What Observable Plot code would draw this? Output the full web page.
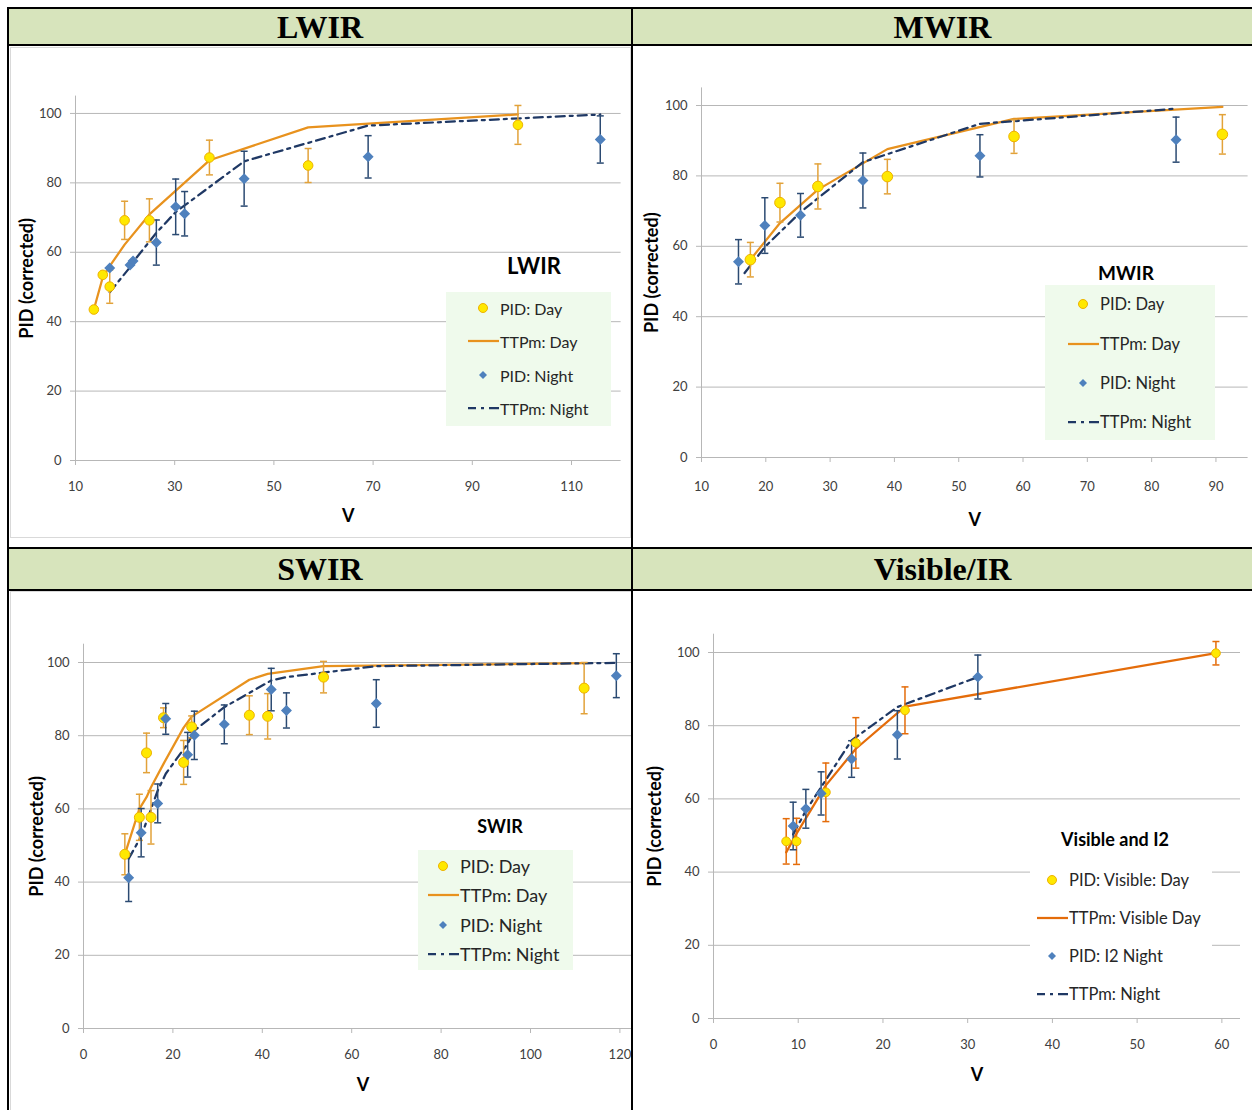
<!DOCTYPE html>
<html><head><meta charset="utf-8">
<script src="https://cdn.jsdelivr.net/npm/d3@7"></script>
<script src="https://cdn.jsdelivr.net/npm/@observablehq/plot@0.6"></script>
<style>
body{margin:0;background:#fff;}
#page{position:relative;width:1252px;height:1110px;overflow:hidden;background:#fff;font-family:Lato,"Open Sans",sans-serif;}
.bl{position:absolute;background:#000;}
.hdr{position:absolute;background:#D7E4BC;font-family:"Liberation Serif","Times New Roman",serif;font-weight:bold;font-size:32px;color:#000;text-align:center;}
.outline{position:absolute;border:1px solid #d9d9d9;box-sizing:border-box;}
.cell{position:absolute;overflow:hidden;}
.cell svg{display:block;overflow:visible;max-width:none !important;}
.cell [aria-label="y-axis label"] text,.cell [aria-label="x-axis label"] text{font-weight:700;font-size:18px;fill:#000;}
.lgtitle{position:absolute;font-weight:700;color:#000;white-space:nowrap;transform:translate(-50%,-50%);}
.lgbox{position:absolute;}
.lgrow{position:absolute;display:flex;align-items:center;height:20px;white-space:nowrap;color:#262626;}
.lgrow svg{display:block;}
</style>
</head><body>
<div id="page"></div>
<script>
// ---------- DATA ----------
const yTicks = [0, 20, 40, 60, 80, 100];

// LWIR
const lwirXTicks = [10, 30, 50, 70, 90, 110];
const lwirDayV = [13.7, 15.5, 16.9, 19.9, 24.9, 37.0, 56.9, 99.2];
const lwirDayPID = [43.5, 53.5, 50.1, 69.2, 69.2, 87.3, 85.0, 96.7];
const lwirDayErr = [0, 0, 4.8, 5.5, 6.2, 5.0, 4.9, 5.6];
const lwirNightV = [16.9, 21.0, 21.6, 26.3, 30.2, 32.0, 44.0, 69.0, 115.8];
const lwirNightPID = [55.5, 56.3, 57.5, 62.8, 73.1, 71.1, 81.2, 87.5, 92.5];
const lwirNightErr = [0, 0, 0, 6.5, 8.0, 6.4, 7.9, 6.1, 6.8];
const lwirDayModelV = [13.7, 15.5, 16.9, 19.9, 24.9, 37.0, 56.9, 99.2];
const lwirDayModelPID = [43.5, 52.8, 56.0, 62.2, 70.9, 86.5, 96.0, 99.7];
const lwirNightModelV = [16.9, 21.0, 21.6, 26.3, 30.2, 32.0, 44.0, 69.0, 115.8];
const lwirNightModelPID = [48.5, 55.7, 57.2, 65.6, 71.6, 73.5, 86.2, 96.5, 99.7];

// MWIR
const mwirXTicks = [10, 20, 30, 40, 50, 60, 70, 80, 90];
const mwirDayV = [17.6, 22.2, 28.1, 38.9, 58.6, 91.0];
const mwirDayPID = [56.2, 72.4, 77.0, 79.8, 91.2, 91.8];
const mwirDayErr = [4.9, 5.5, 6.4, 4.9, 4.8, 5.6];
const mwirNightV = [15.75, 19.85, 25.4, 35.1, 53.3, 83.8];
const mwirNightPID = [55.6, 65.9, 68.8, 78.7, 85.7, 90.3];
const mwirNightErr = [6.3, 7.9, 6.2, 7.8, 6.0, 6.4];
const mwirDayModelV = [17.6, 22.2, 28.1, 38.9, 58.6, 91.0];
const mwirDayModelPID = [56.2, 66.6, 76.1, 87.6, 96.2, 99.6];
const mwirNightModelV = [16.7, 19.85, 25.4, 35.1, 53.3, 83.8];
const mwirNightModelPID = [52.4, 59.8, 69.7, 83.9, 94.8, 99.1];

// SWIR
const swirXTicks = [0, 20, 40, 60, 80, 100, 120];
const swirDayV = [9.25, 12.5, 14.1, 15.1, 17.9, 22.4, 24.2, 37.1, 41.2, 53.7, 112.0];
const swirDayPID = [47.6, 57.7, 75.3, 57.7, 84.9, 72.7, 82.4, 85.6, 85.3, 96.0, 93.0];
const swirDayErr = [5.6, 6.3, 5.4, 7.3, 2.7, 6.0, 3.0, 5.3, 6.2, 4.3, 7.0];
const swirNightV = [10.1, 12.9, 16.6, 18.4, 23.3, 24.8, 31.5, 42.0, 45.4, 65.5, 119.2];
const swirNightPID = [41.2, 53.5, 61.5, 84.6, 74.8, 80.1, 83.1, 92.6, 86.9, 88.8, 96.4];
const swirNightErr = [6.5, 6.6, 5.3, 4.2, 6.1, 6.6, 5.3, 5.8, 4.8, 6.5, 6.0];
const swirDayModelV = [9.25, 12.5, 14.1, 15.1, 17.9, 22.4, 24.2, 37.1, 41.2, 53.7, 112.0];
const swirDayModelPID = [47.6, 60.0, 63.2, 65.9, 72.3, 82.2, 85.2, 95.3, 96.9, 99.0, 99.8];
const swirNightModelV = [10.1, 12.9, 16.6, 18.4, 23.3, 24.8, 31.5, 42.0, 45.4, 65.5, 119.2];
const swirNightModelPID = [46.4, 52.5, 65.0, 69.6, 77.8, 81.4, 87.8, 95.1, 96.0, 99.0, 99.9];

// Visible / I2
const visXTicks = [0, 10, 20, 30, 40, 50, 60];
const visDayV = [8.58, 9.8, 13.26, 16.8, 22.6, 59.3];
const visDayPID = [48.4, 48.4, 61.8, 75.3, 84.2, 99.8];
const visDayErr = [6.2, 6.3, 8.0, 6.9, 6.4, 3.2];
const visNightV = [9.4, 10.9, 12.7, 16.3, 21.7, 31.2];
const visNightPID = [52.6, 57.3, 61.5, 70.9, 77.5, 93.3];
const visNightErr = [6.5, 5.3, 5.9, 5.0, 6.6, 6.0];
const visDayModelV = [8.58, 9.8, 13.26, 16.8, 22.6, 59.3];
const visDayModelPID = [45.4, 50.5, 63.7, 73.7, 85.2, 99.8];
const visNightModelV = [9.4, 10.9, 12.7, 16.3, 21.7, 31.2];
const visNightModelPID = [50.3, 56.8, 63.2, 76.0, 85.1, 93.3];

const headerTitles = ["LWIR", "MWIR", "SWIR", "Visible/IR"];
const legendTitles = ["LWIR", "MWIR", "SWIR", "Visible and I2"];
const legendLabelsStd = ["PID: Day", "TTPm: Day", "PID: Night", "TTPm: Night"];
const legendLabelsVis = ["PID: Visible: Day", "TTPm: Visible Day", "PID: I2 Night", "TTPm: Night"];

// ---------- LAYOUT ----------
const page = document.getElementById("page");
function div(cls, style, html) {
  const d = document.createElement("div");
  if (cls) d.className = cls;
  Object.assign(d.style, style);
  if (html != null) d.textContent = html;
  page.appendChild(d);
  return d;
}
// headers
div("hdr", {left:"9px", top:"9px", width:"622px", height:"35px", lineHeight:"36px"}, headerTitles[0]);
div("hdr", {left:"633px", top:"9px", width:"619px", height:"35px", lineHeight:"36px"}, headerTitles[1]);
div("hdr", {left:"9px", top:"549px", width:"622px", height:"40px", lineHeight:"40px"}, headerTitles[2]);
div("hdr", {left:"633px", top:"549px", width:"619px", height:"40px", lineHeight:"40px"}, headerTitles[3]);
// chart outlines
div("outline", {left:"10px", top:"47px", width:"621px", height:"491px"});
div("outline", {left:"10px", top:"591px", width:"622px", height:"530px"});

const capSymbol = {draw(ctx, size) { const r = Math.sqrt(size / Math.PI); ctx.moveTo(-r, 0); ctx.lineTo(r, 0); }};
const rows = (V, P, E) => V.map((v, i) => ({v, pid: P[i], err: E ? E[i] : 0}));

const NIGHT_LINE = "#1F3864";
const NIGHT_ERR = "#2B4A72";
const NIGHT_DOT = "#4F81BD";
const DAY_FILL = "#FFE800";
const DAY_STROKE = "#EDB200";

const panels = [
  {left:9, top:46, width:622, height:501, svgW:622, ml:66, mr:10.4, mt:49.6, mb:87, xDomain:[10,120], xTicks:lwirXTicks,
   day:rows(lwirDayV, lwirDayPID, lwirDayErr), night:rows(lwirNightV, lwirNightPID, lwirNightErr),
   dayModel:rows(lwirDayModelV, lwirDayModelPID), nightModel:rows(lwirNightModelV, lwirNightModelPID),
   dayLine:"#E8921E", dayErr:"#E2A23A", dayR:4.8, ylo:55, xlo:61, tp:16},
  {left:633, top:46, width:619, height:501, svgW:619, ml:68, mr:4.4, mt:41.4, mb:90, xDomain:[10,95], xTicks:mwirXTicks,
   day:rows(mwirDayV, mwirDayPID, mwirDayErr), night:rows(mwirNightV, mwirNightPID, mwirNightErr),
   dayModel:rows(mwirDayModelV, mwirDayModelPID), nightModel:rows(mwirNightModelV, mwirNightModelPID),
   dayLine:"#E8921E", dayErr:"#E2A23A", dayR:5.3, ylo:56, xlo:68, tp:19},
  {left:9, top:591, width:622, height:519, svgW:640, ml:74, mr:7.25, mt:52.7, mb:82, xDomain:[0,125], xTicks:swirXTicks,
   day:rows(swirDayV, swirDayPID, swirDayErr), night:rows(swirNightV, swirNightPID, swirNightErr),
   dayModel:rows(swirDayModelV, swirDayModelPID), nightModel:rows(swirNightModelV, swirNightModelPID),
   dayLine:"#E8921E", dayErr:"#E2A23A", dayR:5, ylo:53, xlo:62, tp:16},
  {left:633, top:591, width:619, height:519, svgW:619, ml:80, mr:12, mt:42.7, mb:92, xDomain:[0,62.2], xTicks:visXTicks,
   day:rows(visDayV, visDayPID, visDayErr), night:rows(visNightV, visNightPID, visNightErr),
   dayModel:rows(visDayModelV, visDayModelPID), nightModel:rows(visNightModelV, visNightModelPID),
   dayLine:"#E46C0A", dayErr:"#E46C0A", dayR:4.4, ylo:65, xlo:62, tp:16}
];

function errMarks(pts, color) {
  const e = pts.filter(d => d.err > 0);
  return [
    Plot.ruleX(e, {x:"v", y1:d => d.pid - d.err, y2:d => d.pid + d.err, stroke:color, strokeWidth:1.5}),
    Plot.dot(e, {x:"v", y:d => d.pid + d.err, symbol:capSymbol, r:3.5, fill:"none", stroke:color, strokeWidth:1.5}),
    Plot.dot(e, {x:"v", y:d => d.pid - d.err, symbol:capSymbol, r:3.5, fill:"none", stroke:color, strokeWidth:1.5})
  ];
}

panels.forEach(p => {
  const chart = Plot.plot({
    width:p.svgW, height:p.height,
    marginLeft:p.ml, marginRight:p.mr, marginTop:p.mt, marginBottom:p.mb,
    x:{domain:p.xDomain}, y:{domain:[0,105]},
    style:{fontFamily:"Lato, 'Open Sans', sans-serif", fontSize:"13px", color:"#404040", background:"transparent", overflow:"visible", maxWidth:"none"},
    marks:[
      Plot.gridY(yTicks.filter(t => t > 0), {stroke:"#b7b7b7", strokeOpacity:1}),
      Plot.ruleY([0], {stroke:"#b7b7b7"}),
      Plot.ruleX([p.xDomain[0]], {stroke:"#b7b7b7"}),
      Plot.axisY({ticks:yTicks, tickSize:5, tickPadding:9, stroke:"#b7b7b7", label:"PID (corrected)", labelAnchor:"center", labelOffset:p.ylo, labelArrow:"none"}),
      Plot.axisX({ticks:p.xTicks, tickSize:5, tickPadding:p.tp, stroke:"#b7b7b7", tickFormat:d => String(d), label:"V", labelAnchor:"center", labelOffset:p.xlo, labelArrow:"none"}),
      Plot.line(p.dayModel, {x:"v", y:"pid", stroke:p.dayLine, strokeWidth:2.25}),
      Plot.line(p.nightModel, {x:"v", y:"pid", stroke:NIGHT_LINE, strokeWidth:2.25, strokeDasharray:"9,5,3,5"}),
      ...errMarks(p.day, p.dayErr),
      ...errMarks(p.night, NIGHT_ERR),
      Plot.dot(p.day, {x:"v", y:"pid", r:p.dayR, fill:DAY_FILL, stroke:DAY_STROKE, strokeWidth:1}),
      Plot.dot(p.night, {x:"v", y:"pid", symbol:"diamond2", r:4, fill:NIGHT_DOT, stroke:NIGHT_DOT})
    ]
  });
  const c = div("cell", {left:p.left + "px", top:p.top + "px", width:p.width + "px", height:p.height + "px"});
  c.appendChild(chart);
});

// black rules (on top of charts)
[["7px","7px","1245px","2px"],["7px","7px","2px","1103px"],["631px","7px","2px","1103px"],
 ["7px","44px","1245px","2px"],["7px","547px","1245px","2px"],["7px","589px","1245px","2px"]]
 .forEach(([l,t,w,h]) => div("bl", {left:l, top:t, width:w, height:h}));

// ---------- LEGENDS ----------
function swatch(kind, lineColor) {
  const ns = "http://www.w3.org/2000/svg";
  const s = document.createElementNS(ns, "svg");
  s.setAttribute("width", 32); s.setAttribute("height", 14);
  let el;
  if (kind === "dot") {
    el = document.createElementNS(ns, "circle");
    el.setAttribute("cx", 15); el.setAttribute("cy", 7); el.setAttribute("r", 4.5);
    el.setAttribute("fill", DAY_FILL); el.setAttribute("stroke", DAY_STROKE);
  } else if (kind === "diamond") {
    el = document.createElementNS(ns, "path");
    el.setAttribute("d", "M15,3L19,7L15,11L11,7Z"); el.setAttribute("fill", NIGHT_DOT);
  } else {
    el = document.createElementNS(ns, "line");
    el.setAttribute("x1", 0); el.setAttribute("x2", 31); el.setAttribute("y1", 7); el.setAttribute("y2", 7);
    el.setAttribute("stroke-width", 2.25);
    if (kind === "line") el.setAttribute("stroke", lineColor);
    else { el.setAttribute("stroke", NIGHT_LINE); el.setAttribute("stroke-dasharray", "8,5,3,5,10"); }
  }
  s.appendChild(el);
  return s;
}
const legends = [
  {title:legendTitles[0], tx:534, ty:265, tsize:22, box:[446,292,165,134,"#EFFAEC"], sx:468, rowsY:[308,341,375,408], fs:16, labels:legendLabelsStd, lineColor:"#E8921E"},
  {title:legendTitles[1], tx:1126, ty:272, tsize:19, box:[1045,285,170,155,"#EFFAEC"], sx:1068, rowsY:[304,344,383,422], fs:16.5, labels:legendLabelsStd, lineColor:"#E8921E"},
  {title:legendTitles[2], tx:500, ty:826, tsize:18, box:[418,850,155,120,"#EFFAEC"], sx:428, rowsY:[866,895,925,954], fs:18, labels:legendLabelsStd, lineColor:"#E8921E"},
  {title:legendTitles[3], tx:1115, ty:839, tsize:18, box:[1030,862,182,150,"#FFFFFF"], sx:1037, rowsY:[880,918,956,994], fs:16.5, labels:legendLabelsVis, lineColor:"#E46C0A"}
];
legends.forEach(L => {
  const [bl, bt, bw, bh, bg] = L.box;
  div("lgbox", {left:bl + "px", top:bt + "px", width:bw + "px", height:bh + "px", background:bg});
  div("lgtitle", {left:L.tx + "px", top:L.ty + "px", fontSize:L.tsize + "px"}, L.title);
  const kinds = ["dot", "line", "diamond", "dash"];
  L.labels.forEach((lab, i) => {
    const r = div("lgrow", {left:L.sx + "px", top:(L.rowsY[i] - 10) + "px", fontSize:L.fs + "px"});
    r.appendChild(swatch(kinds[i], L.lineColor));
    const t = document.createElement("span"); t.textContent = lab; r.appendChild(t);
  });
});
</script>
</body></html>
